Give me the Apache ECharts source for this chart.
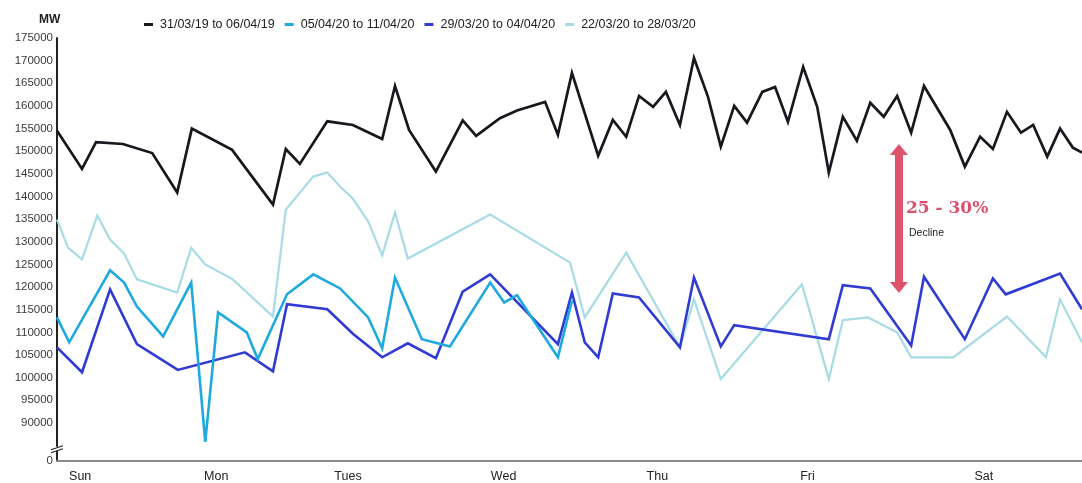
<!DOCTYPE html>
<html>
<head>
<meta charset="utf-8">
<script src="https://cdn.jsdelivr.net/npm/echarts@6/dist/echarts.min.js"></script>
<style>
  html, body { margin: 0; padding: 0; background: #fff; }
  #chart { width: 1082px; height: 483px; }
</style>
</head>
<body>
<div id="chart"></div>
<script>
// Half-hourly demand sampled across one week, x in hours from Sunday 00:00
const dayNames = ['Sun', 'Mon', 'Tues', 'Wed', 'Thu', 'Fri', 'Sat'];
const dayLabelHours = [3.8, 26.1, 47.7, 73.2, 98.4, 123.0, 151.9];

const yTickValues = [90000, 95000, 100000, 105000, 110000, 115000, 120000, 125000,
  130000, 135000, 140000, 145000, 150000, 155000, 160000, 165000, 170000, 175000];
const yAxisMin = 81600;   // shown as "0" below the axis break
const yAxisMax = 175000;

const seriesNames = ['31/03/19 to 06/04/19', '05/04/20 to 11/04/20', '29/03/20 to 04/04/20', '22/03/20 to 28/03/20'];

const hours2019 = [0, 4.1, 6.4, 10.8, 15.6, 19.7, 22.1, 28.7, 35.4, 37.5, 39.8, 44.3, 48.5, 53.3, 55.4, 57.7,
  62.1, 66.5, 68.7, 72.6, 75.4, 80.0, 82.1, 84.4, 88.7, 91.1, 93.3, 95.4, 97.7, 99.8, 102.1, 104.4, 106.7,
  108.8, 111.0, 113.1, 115.6, 117.7, 119.8, 122.3, 124.6, 126.5, 128.8, 131.1, 133.3, 135.5, 137.7, 140.0,
  142.1, 146.4, 148.8, 151.3, 153.4, 155.7, 158.0, 160.0, 162.3, 164.4, 166.5, 168];
const mw2019 = [154500, 146100, 152000, 151600, 149600, 140900, 155000, 150300, 138200, 150500, 147200, 156600,
  155800, 152700, 164400, 154700, 145500, 156800, 153400, 157300, 159000, 160900, 153600, 167300, 149000,
  156900, 153200, 162200, 159800, 163100, 155800, 170600, 162000, 151000, 160000, 156300, 163100, 164200,
  156500, 168600, 159800, 145300, 157600, 152300, 160700, 157600, 162200, 154100, 164400, 154700, 146600,
  153200, 150500, 158700, 154100, 155800, 148800, 155000, 150800, 149700];

const hoursApr05 = [0, 2.0, 8.7, 11.0, 13.1, 17.4, 22.0, 24.3, 26.4, 31.1, 32.9, 37.7, 42.0, 46.4, 51.0,
  53.3, 55.4, 59.8, 64.4, 71.0, 73.3, 75.4, 82.1, 84.4];
const mwApr05 = [113300, 107800, 123700, 121000, 115700, 109100, 121000, 85800, 114400, 110000, 104100,
  118400, 122800, 119700, 113300, 106500, 122100, 108500, 106900, 121000, 116600, 118200, 104500, 117000];

const hoursMar29 = [0, 4.1, 8.7, 13.1, 19.8, 30.8, 35.4, 37.7, 44.3, 48.5, 53.3, 57.5, 62.1, 66.5, 71.0,
  82.1, 84.4, 86.5, 88.7, 91.1, 95.4, 102.1, 104.4, 108.8, 111.0, 126.5, 128.8, 133.3, 140.0, 142.1,
  148.8, 153.4, 155.5, 164.4, 168];
const mwMar29 = [106700, 101200, 119500, 107400, 101700, 105600, 101400, 116200, 115100, 109700, 104500,
  107600, 104300, 119000, 122800, 107400, 118800, 107800, 104500, 118600, 117700, 106700, 122100, 106900,
  111600, 108500, 120400, 119700, 107100, 122300, 108500, 121900, 118400, 123000, 115100];

const hoursMar22 = [0, 1.8, 4.1, 6.6, 8.7, 11.0, 13.1, 19.7, 22.0, 24.3, 28.8, 35.4, 37.5, 42.0, 44.3,
  46.4, 48.5, 51.0, 53.3, 55.4, 57.5, 71.0, 84.1, 86.5, 93.3, 102.1, 104.4, 108.8, 122.1, 126.5, 128.8,
  132.9, 137.7, 140.0, 146.9, 155.7, 162.1, 164.4, 168];
const mwMar22 = [134900, 128700, 126100, 135800, 130500, 127400, 121700, 118800, 128700, 125000, 121700,
  113500, 137100, 144400, 145300, 142200, 139500, 134500, 127000, 136500, 126300, 136000, 125400, 113300,
  127600, 106700, 117300, 99700, 120600, 99700, 112700, 113300, 110000, 104500, 104500, 113500, 104500,
  117300, 107800];

const seriesColors = ['#15181d', '#1ea9df', '#2f3bd2', '#a7dbe6'];
const seriesWidths = [2.7, 2.6, 2.6, 2.2];

// Annotation: range of the decline between the 2019 and 2020 weeks
const declineHour = 138.0;
const declineTop = 150400;
const declineBottom = 119900;

function zip(xs, ys) { return xs.map((x, i) => [x, ys[i]]); }

const seriesData = [zip(hours2019, mw2019), zip(hoursApr05, mwApr05), zip(hoursMar29, mwMar29), zip(hoursMar22, mwMar22)];

const FONT = 'Liberation Sans, Arial, sans-serif';
const chart = echarts.init(document.getElementById('chart'), null, { renderer: 'canvas' });

const series = seriesNames.map((name, i) => ({
  name: name,
  type: 'line',
  data: seriesData[i],
  showSymbol: false,
  symbol: 'none',
  smooth: false,
  lineStyle: { color: seriesColors[i], width: seriesWidths[i], join: 'miter' },
  itemStyle: { color: seriesColors[i] },
  z: 10 - i,
  animation: false
}));

series[0].markLine = {
  silent: true,
  animation: false,
  symbol: ['triangle', 'triangle'],
  symbolSize: [18, 11],
  label: { show: false },
  lineStyle: { color: '#e0536c', width: 8, type: 'solid' },
  data: [[{ coord: [declineHour, declineTop] }, { coord: [declineHour, declineBottom] }]]
};

chart.setOption({
  animation: false,
  backgroundColor: '#ffffff',
  title: {
    text: 'MW',
    left: 34, top: 9,
    textStyle: { fontFamily: FONT, fontSize: 12, fontWeight: 'bold', color: '#222' }
  },
  legend: {
    top: 13, left: 139,
    icon: 'rect',
    itemWidth: 9, itemHeight: 3,
    itemGap: 10,
    textStyle: { fontFamily: FONT, fontSize: 12.5, color: '#222', padding: [0, 0, 0, 2] },
    data: seriesNames
  },
  grid: { left: 57, right: 0, top: 38, bottom: 21 },
  xAxis: {
    type: 'value',
    min: 0, max: 168,
    axisLine: { show: true, lineStyle: { color: '#8a8a8a', width: 2 } },
    axisTick: { show: false },
    splitLine: { show: false },
    axisLabel: {
      customValues: dayLabelHours,
      formatter: v => dayNames[dayLabelHours.indexOf(v)],
      fontFamily: FONT, fontSize: 12.5, color: '#222', margin: 9
    }
  },
  yAxis: {
    type: 'value',
    min: yAxisMin, max: yAxisMax,
    axisLine: { show: true, lineStyle: { color: '#222', width: 2 } },
    axisTick: { show: false },
    splitLine: { show: false },
    axisLabel: {
      customValues: [yAxisMin].concat(yTickValues),
      formatter: v => (v === yAxisMin ? '0' : String(v)),
      fontFamily: FONT, fontSize: 11.5, color: '#3a3a3a', margin: 4
    }
  },
  series: series
});

// Axis break marker and decline label, placed from data coordinates
const breakPt = chart.convertToPixel({ gridIndex: 0 }, [0, 84300]);
const labelPt = chart.convertToPixel({ gridIndex: 0 }, [declineHour, 0]);
const bx = breakPt[0], by = breakPt[1];
chart.setOption({
  graphic: [
    { type: 'rect', shape: { x: bx - 6, y: by - 2, width: 12, height: 4 }, style: { fill: '#fff' }, z: 100 },
    { type: 'line', shape: { x1: bx - 6, y1: by + 1, x2: bx + 6, y2: by - 3 }, style: { stroke: '#222', lineWidth: 1.2 }, z: 101 },
    { type: 'line', shape: { x1: bx - 6, y1: by + 4, x2: bx + 6, y2: by }, style: { stroke: '#222', lineWidth: 1.2 }, z: 101 },
    {
      type: 'text', left: labelPt[0] + 7, top: 200, z: 100,
      style: { text: '25 - 30%', fill: '#d9516b', font: 'bold 17px "DejaVu Serif", "Liberation Serif", serif' }
    },
    {
      type: 'text', left: labelPt[0] + 10, top: 228, z: 100,
      style: { text: 'Decline', fill: '#222', font: '10.5px "Liberation Sans", Arial, sans-serif' }
    }
  ]
});
</script>
</body>
</html>
